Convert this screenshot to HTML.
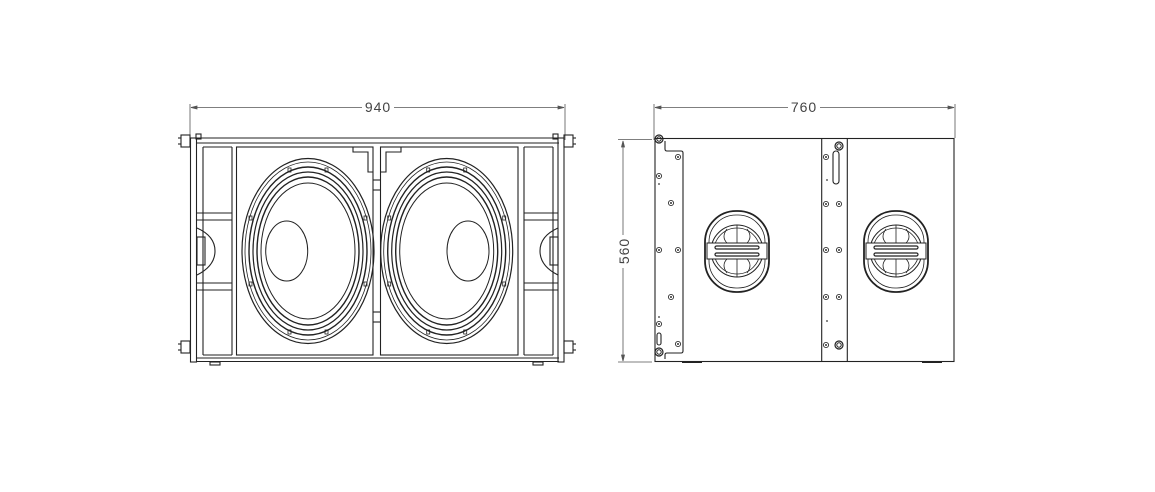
<!DOCTYPE html>
<html><head><meta charset="utf-8"><style>
html,body{margin:0;padding:0;background:#fff;width:1155px;height:492px;overflow:hidden}
svg{display:block}
text{font-family:"Liberation Sans",sans-serif;fill:#444}
</style></head><body>
<svg width="1155" height="492" viewBox="0 0 1155 492" xmlns="http://www.w3.org/2000/svg">
<defs>
<g id="spk" fill="none" stroke="#222">
  <ellipse cx="0" cy="0" rx="66" ry="92.5" stroke-width="1.2"/>
  <ellipse cx="0" cy="0" rx="63" ry="89" stroke-width="0.8"/>
  <ellipse cx="0" cy="0" rx="59" ry="84" stroke-width="1.4"/>
  <ellipse cx="0" cy="0" rx="55" ry="79" stroke-width="1.2"/>
  <ellipse cx="0" cy="0" rx="51" ry="74" stroke-width="1.4"/>
  <ellipse cx="0" cy="0" rx="47" ry="68" stroke-width="1"/>
  <rect x="-20" y="-83" width="3" height="4" stroke-width="0.8"/>
  <rect x="17" y="-83" width="3" height="4" stroke-width="0.8"/>
  <rect x="-20" y="79" width="3" height="4" stroke-width="0.8"/>
  <rect x="17" y="79" width="3" height="4" stroke-width="0.8"/>
  <rect x="-59" y="-35" width="3" height="4" stroke-width="0.8"/>
  <rect x="56" y="-35" width="3" height="4" stroke-width="0.8"/>
  <rect x="-59" y="31" width="3" height="4" stroke-width="0.8"/>
  <rect x="56" y="31" width="3" height="4" stroke-width="0.8"/>
</g>
<g id="hdl" fill="none" stroke="#222">
  <rect x="-32" y="-40" width="64" height="81" rx="31" ry="31" stroke-width="1.8"/>
  <rect x="-28" y="-36" width="56" height="73" rx="27" ry="27" stroke-width="0.8"/>
  <circle cx="0" cy="0" r="26" stroke-width="1"/>
  <circle cx="0" cy="0" r="23" stroke-width="0.8"/>
  <rect x="-30" y="-8" width="60" height="16" stroke-width="1" fill="#fff"/>
  <rect x="-22" y="-5" width="44" height="3" rx="1.5" stroke-width="1.2"/>
  <rect x="-22" y="2" width="44" height="3" rx="1.5" stroke-width="1.2"/>
  <path d="M-10 -22 Q-16 -14 -10 -8 M10 -22 Q16 -14 10 -8 M-10 8 Q-16 14 -10 22 M10 8 Q16 14 10 22 M0 -26 V-8 M0 8 V26" stroke-width="0.8"/>
</g>
<g id="bolt"><circle r="2.6" fill="none" stroke="#333" stroke-width="0.9"/><circle r="1" fill="#333"/></g>
<g id="bigbolt"><circle r="4" fill="none" stroke="#222" stroke-width="1.2"/><circle r="2.2" fill="none" stroke="#222" stroke-width="1"/></g>
</defs>

<!-- LEFT VIEW -->
<g stroke="#555" stroke-width="0.8" fill="none">
  <line x1="190" y1="104" x2="190" y2="140"/>
  <line x1="565" y1="104" x2="565" y2="140"/>
  <line x1="191" y1="107.5" x2="362" y2="107.5"/>
  <line x1="394" y1="107.5" x2="564" y2="107.5"/>
  <path d="M191 107.5 l6 -1.5 v3 z M564 107.5 l-6 -1.5 v3 z" fill="#555"/>
</g>
<text x="378" y="112" font-size="14" text-anchor="middle" letter-spacing="1">940</text>

<g fill="none" stroke="#222" stroke-width="1.1">
  <line x1="196" y1="138" x2="559" y2="138"/>
  <line x1="196" y1="143" x2="559" y2="143"/>
  <rect x="190.5" y="138" width="6" height="224"/>
  <rect x="558" y="138" width="6" height="224"/>
  <line x1="196" y1="361.5" x2="559" y2="361.5"/>
  <line x1="196" y1="358" x2="559" y2="358"/>
  <line x1="203" y1="147" x2="203" y2="355"/>
  <line x1="232" y1="147" x2="232" y2="355"/>
  <line x1="524" y1="147" x2="524" y2="355"/>
  <line x1="553" y1="147" x2="553" y2="355"/>
  <line x1="197" y1="213" x2="232" y2="213"/><line x1="197" y1="220" x2="232" y2="220"/>
  <line x1="197" y1="283" x2="232" y2="283"/><line x1="197" y1="290" x2="232" y2="290"/>
  <line x1="524" y1="213" x2="558" y2="213"/><line x1="524" y1="220" x2="558" y2="220"/>
  <line x1="524" y1="283" x2="558" y2="283"/><line x1="524" y1="290" x2="558" y2="290"/>
  <line x1="203" y1="147" x2="232" y2="147"/><line x1="203" y1="355" x2="232" y2="355"/>
  <line x1="524" y1="147" x2="553" y2="147"/><line x1="524" y1="355" x2="553" y2="355"/>
  <path d="M197 228 Q215 236 215 251 Q215 266 197 275"/>
  <rect x="197" y="237" width="8" height="28"/>
  <path d="M558 228 Q540 236 540 251 Q540 266 558 275"/>
  <rect x="550" y="237" width="8" height="28"/>
  <rect x="236.5" y="147" width="136.5" height="208"/>
  <rect x="380.5" y="147" width="137.5" height="208"/>
  <line x1="373" y1="180" x2="381" y2="180"/><line x1="373" y1="190" x2="381" y2="190"/>
  <line x1="373" y1="312" x2="381" y2="312"/><line x1="373" y1="322" x2="381" y2="322"/>
  <path d="M353 147 V152 H368 V172 H373 M381 172 H386 V152 H401 V147"/>
  <rect x="210" y="362" width="10" height="3"/>
  <rect x="533" y="362" width="10" height="3"/>
  <rect x="181" y="135" width="9" height="12"/><rect x="181" y="341" width="9" height="12"/>
  <rect x="564" y="135" width="9" height="12"/><rect x="564" y="341" width="9" height="12"/>
  <line x1="178" y1="138" x2="181" y2="138"/><line x1="178" y1="144" x2="181" y2="144"/>
  <line x1="178" y1="344" x2="181" y2="344"/><line x1="178" y1="350" x2="181" y2="350"/>
  <line x1="573" y1="138" x2="576" y2="138"/><line x1="573" y1="144" x2="576" y2="144"/>
  <line x1="573" y1="344" x2="576" y2="344"/><line x1="573" y1="350" x2="576" y2="350"/>
  <rect x="196" y="134" width="5" height="5"/><rect x="553" y="134" width="5" height="5"/>
</g>
<use href="#spk" transform="translate(308,251)"/>
<use href="#spk" transform="translate(446.7,251)"/>
<g fill="none" stroke="#222" stroke-width="1">
  <ellipse cx="286.7" cy="251" rx="21" ry="30"/>
  <ellipse cx="468" cy="251" rx="21" ry="30"/>
</g>

<!-- RIGHT VIEW -->
<g stroke="#555" stroke-width="0.8" fill="none">
  <line x1="654" y1="104" x2="654" y2="140"/>
  <line x1="955" y1="104" x2="955" y2="138"/>
  <line x1="655" y1="107.5" x2="788" y2="107.5"/>
  <line x1="820" y1="107.5" x2="954" y2="107.5"/>
  <path d="M655 107.5 l6 -1.5 v3 z M954 107.5 l-6 -1.5 v3 z" fill="#555"/>
  <line x1="618" y1="139.5" x2="652" y2="139.5"/>
  <line x1="618" y1="362" x2="652" y2="362"/>
  <line x1="623" y1="141" x2="623" y2="235"/>
  <line x1="623" y1="268" x2="623" y2="361"/>
  <path d="M623 141 l-1.5 6 h3 z M623 361 l-1.5 -6 h3 z" fill="#555"/>
</g>
<text x="804" y="112" font-size="14" text-anchor="middle" letter-spacing="1">760</text>
<text transform="translate(629,251) rotate(-90)" font-size="14" text-anchor="middle" letter-spacing="1">560</text>

<g fill="none" stroke="#222" stroke-width="1.1">
  <rect x="655" y="138.5" width="299" height="223"/>
  <path d="M665 141 V149 Q665 151 667 151 H681 Q683 151 683 153 V351 Q683 353 681 353 H667 Q665 353 665 355 V359"/>
  <line x1="821.7" y1="138.5" x2="821.7" y2="361.5"/>
  <line x1="847.3" y1="138.5" x2="847.3" y2="361.5"/>
  <rect x="833" y="151" width="6" height="33" rx="3"/>
  <rect x="657" y="333" width="4" height="12" rx="2"/>
  <path d="M682 362 h20 M922 362 h20" stroke-width="2"/>
</g>
<use href="#bigbolt" transform="translate(659,139)"/>
<use href="#bigbolt" transform="translate(659,352)"/>
<use href="#bigbolt" transform="translate(839,146)"/>
<use href="#bigbolt" transform="translate(839,345)"/>
<use href="#bolt" transform="translate(678,157)"/>
<use href="#bolt" transform="translate(659,176)"/>
<use href="#bolt" transform="translate(671,203)"/>
<use href="#bolt" transform="translate(659,250)"/>
<use href="#bolt" transform="translate(678,250)"/>
<use href="#bolt" transform="translate(671,297)"/>
<use href="#bolt" transform="translate(659,324)"/>
<use href="#bolt" transform="translate(678,344)"/>
<use href="#bolt" transform="translate(826,157)"/>
<use href="#bolt" transform="translate(826,204)"/>
<use href="#bolt" transform="translate(839,204)"/>
<use href="#bolt" transform="translate(826,250)"/>
<use href="#bolt" transform="translate(839,250)"/>
<use href="#bolt" transform="translate(826,297)"/>
<use href="#bolt" transform="translate(839,297)"/>
<use href="#bolt" transform="translate(826,345)"/>
<circle cx="659" cy="184" r="0.9" fill="#333"/>
<circle cx="659" cy="317" r="0.9" fill="#333"/>
<circle cx="827" cy="180" r="0.9" fill="#333"/>
<circle cx="827" cy="321" r="0.9" fill="#333"/>
<use href="#hdl" transform="translate(737,251)"/>
<use href="#hdl" transform="translate(896,251)"/>
</svg>
</body></html>
